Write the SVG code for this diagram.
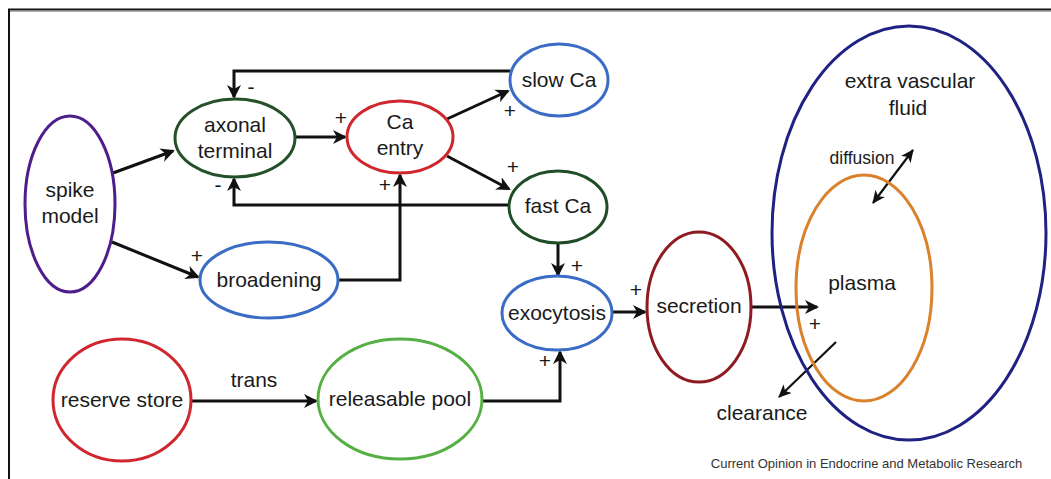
<svg xmlns="http://www.w3.org/2000/svg" width="1051" height="479" viewBox="0 0 1051 479">
  <style>
    .node { fill: #ffffff; stroke-width: 3; }
    .lbl { font-family: "Liberation Sans", Arial, sans-serif; font-size: 21px; fill: #1a1a1a; text-anchor: middle; }
    .sm { font-family: "Liberation Sans", Arial, sans-serif; font-size: 17.5px; fill: #1a1a1a; text-anchor: middle; }
    .sign { font-family: "Liberation Sans", Arial, sans-serif; font-size: 21px; fill: #1a1a1a; text-anchor: middle; }
    .edge { fill: none; stroke: #111; stroke-width: 3; marker-end: url(#ah); }
    .thin { fill: none; stroke: #111; stroke-width: 2.2; }
  </style>
  <defs>
    <marker id="ah" markerUnits="userSpaceOnUse" markerWidth="16" markerHeight="16" refX="12" refY="7" orient="auto">
      <path d="M0,0 L14,7 L0,14 L4,7 Z" fill="#111"/>
    </marker>
    <marker id="ahs" markerUnits="userSpaceOnUse" markerWidth="16" markerHeight="16" refX="12" refY="6" orient="auto-start-reverse">
      <path d="M0,0 L13,6 L0,12 L3.5,6 Z" fill="#111"/>
    </marker>
  </defs>

  <rect width="1051" height="479" fill="#ffffff"/>
  <!-- frame -->
  <path d="M9,479 V9.5 H1051" fill="none" stroke="#111" stroke-width="2"/>
  <line x1="10" y1="11.5" x2="1051" y2="11.5" stroke="#aaa" stroke-width="1"/>

  <!-- connectors -->
  <g id="connectors">
    <line class="edge" x1="113" y1="173" x2="173" y2="151"/>
    <line class="edge" x1="112" y1="242" x2="198" y2="277"/>
    <path class="edge" d="M510,71 H234 V97"/>
    <path class="edge" d="M509,205 H234 V179"/>
    <line class="edge" x1="295" y1="137" x2="345" y2="137"/>
    <line class="edge" x1="447" y1="119" x2="508" y2="91"/>
    <line class="edge" x1="447" y1="156" x2="509" y2="189"/>
    <path class="edge" d="M338,280 H400 V175"/>
    <line class="edge" x1="558" y1="243" x2="558" y2="275"/>
    <line class="edge" x1="613" y1="312" x2="645" y2="312"/>
    <line class="edge" x1="191" y1="401" x2="316" y2="401"/>
    <path class="edge" d="M482,401 H560 V352"/>
    <line class="edge" x1="752" y1="307" x2="817" y2="307"/>
    <line class="thin" x1="913" y1="150" x2="873" y2="203" marker-start="url(#ahs)" marker-end="url(#ahs)"/>
    <line class="thin" x1="836" y1="342" x2="779" y2="397" marker-end="url(#ahs)"/>

    <text class="sign" x="251" y="94">-</text>
    <text class="sign" x="218" y="192">-</text>
    <text class="sign" x="341" y="125">+</text>
    <text class="sign" x="510" y="118">+</text>
    <text class="sign" x="513" y="174">+</text>
    <text class="sign" x="385" y="192">+</text>
    <text class="sign" x="197" y="263">+</text>
    <text class="sign" x="577" y="273">+</text>
    <text class="sign" x="636" y="297">+</text>
    <text class="sign" x="545" y="368">+</text>
    <text class="sign" x="815" y="331">+</text>
    <text class="lbl" x="254" y="387">trans</text>
  </g>

  <g id="spike-model">
    <ellipse class="node" cx="70" cy="204" rx="45" ry="88" stroke="#4f1d8c"/>
    <text class="lbl" x="70" y="197">spike</text>
    <text class="lbl" x="70" y="223">model</text>
  </g>
  <g id="axonal-terminal">
    <ellipse class="node" cx="235" cy="138" rx="60" ry="39" stroke="#24502a"/>
    <text class="lbl" x="235" y="132">axonal</text>
    <text class="lbl" x="235" y="158">terminal</text>
  </g>
  <g id="ca-entry">
    <ellipse class="node" cx="400" cy="137" rx="53" ry="36" stroke="#d0262d"/>
    <text class="lbl" x="400" y="129">Ca</text>
    <text class="lbl" x="400" y="155">entry</text>
  </g>
  <g id="slow-ca">
    <ellipse class="node" cx="559" cy="80" rx="49" ry="36" stroke="#3b6cc5"/>
    <text class="lbl" x="559" y="87">slow Ca</text>
  </g>
  <g id="fast-ca">
    <ellipse class="node" cx="558" cy="207" rx="49" ry="36" stroke="#1f4d27"/>
    <text class="lbl" x="558" y="213">fast Ca</text>
  </g>
  <g id="broadening">
    <ellipse class="node" cx="269" cy="280" rx="69" ry="38" stroke="#3b6cc5"/>
    <text class="lbl" x="269" y="287">broadening</text>
  </g>
  <g id="exocytosis">
    <ellipse class="node" cx="557" cy="313" rx="55" ry="37" stroke="#3b6cc5"/>
    <text class="lbl" x="557" y="320">exocytosis</text>
  </g>
  <g id="secretion">
    <ellipse class="node" cx="699" cy="307" rx="52" ry="75" stroke="#8e1b22"/>
    <text class="lbl" x="699" y="313">secretion</text>
  </g>
  <g id="reserve-store">
    <ellipse class="node" cx="122" cy="400" rx="69" ry="61" stroke="#d0262d"/>
    <text class="lbl" x="122" y="407">reserve store</text>
  </g>
  <g id="releasable-pool">
    <ellipse class="node" cx="400" cy="399" rx="82" ry="60" stroke="#55b043"/>
    <text class="lbl" x="400" y="406">releasable pool</text>
  </g>
  <g id="extra-vascular-fluid">
    <ellipse cx="909" cy="233" rx="137" ry="207" fill="none" stroke="#1f2183" stroke-width="3"/>
    <text class="lbl" x="910" y="88">extra vascular</text>
    <text class="lbl" x="908" y="115">fluid</text>
    <text class="sm" x="862" y="164">diffusion</text>
  </g>
  <g id="plasma">
    <ellipse cx="864" cy="288" rx="68" ry="113" fill="none" stroke="#d9822b" stroke-width="3"/>
    <text class="lbl" x="862" y="290">plasma</text>
  </g>
  <g id="clearance">
    <text class="lbl" x="762" y="420">clearance</text>
  </g>

  <text x="866.5" y="468" font-family="'Liberation Sans', Arial, sans-serif" font-size="13px" fill="#333" text-anchor="middle">Current Opinion in Endocrine and Metabolic Research</text>
</svg>
